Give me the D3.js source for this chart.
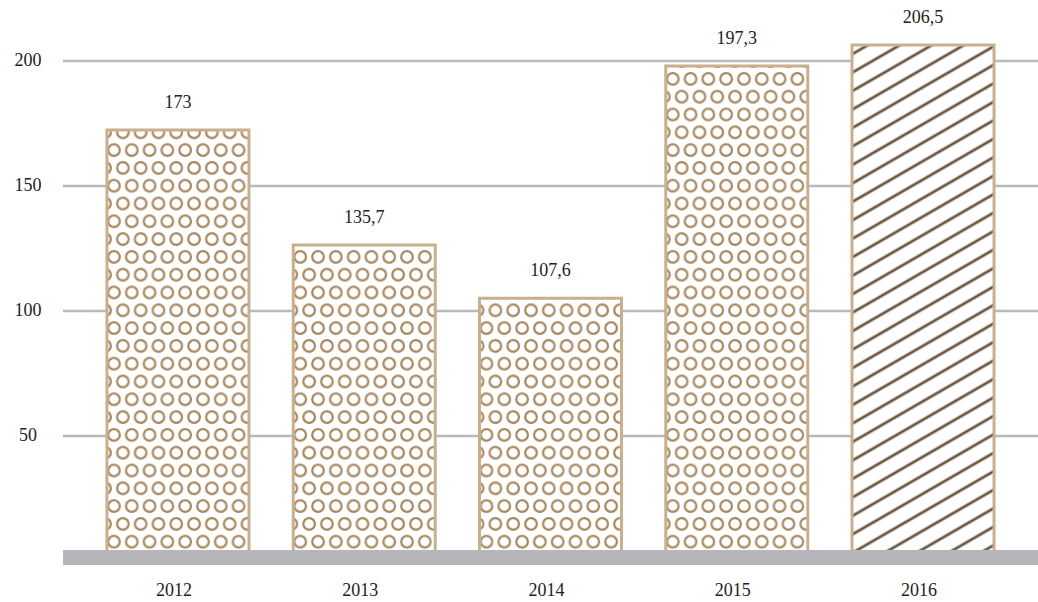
<!DOCTYPE html>
<html>
<head>
<meta charset="utf-8">
<script src="https://cdn.jsdelivr.net/npm/d3@7"></script>
<style>
  html, body { margin: 0; padding: 0; background: #fff; }
  svg { display: block; }
  text { font-family: "Liberation Serif", "DejaVu Serif", serif; fill: #222; }
</style>
</head>
<body>
<svg id="chart" width="1038" height="602"></svg>
<script>
// Chart data
const years = ["2012", "2013", "2014", "2015", "2016"];
const barValues = [172.4, 126.4, 105.1, 198, 206.4];   // heights as drawn
const valueLabels = ["173", "135,7", "107,6", "197,3", "206,5"];
const patternKinds = ["dots", "dots", "dots", "dots", "hatch"];
const yTicks = [50, 100, 150, 200];

// Draw bar chart
function drawChart(svgId) {

	const svg = d3.select(svgId),
		width = +svg.attr("width"),
		height = +svg.attr("height");

	const left = 63, right = width;

	// Scales
	const x = d3.scaleBand()
		.domain(years)
		.range([left, right])
		.paddingInner(0.2376)
		.paddingOuter(0.236);

	const y = d3.scaleLinear()
		.domain([0, 200])
		.range([561, 61]);

	const defs = svg.append("defs");

	// Patterns, one per bar so the tiles line up with the bar edges
	years.forEach((yr, i) => {
		if (patternKinds[i] === "dots") {
			const sp = 17.8;
			const p = defs.append("pattern")
				.attr("id", "pat-" + i)
				.attr("patternUnits", "userSpaceOnUse")
				.attr("x", x(yr))
				.attr("y", y(0) - 19.3 - sp / 2)
				.attr("width", sp)
				.attr("height", sp * 2);
			[[7, sp / 2], [7 + sp / 2, sp * 1.5], [7 + sp / 2 - sp, sp * 1.5]].forEach(c => {
				p.append("circle")
					.attr("cx", c[0])
					.attr("cy", c[1])
					.attr("r", 5.8)
					.attr("fill", "none")
					.attr("stroke", "#a8875f")
					.attr("stroke-width", 2.2);
			});
		} else {
			const p = defs.append("pattern")
				.attr("id", "pat-" + i)
				.attr("patternUnits", "userSpaceOnUse")
				.attr("x", x(yr))
				.attr("y", y(0))
				.attr("width", 10)
				.attr("height", 16)
				.attr("patternTransform", "rotate(-30)");
			p.append("line")
				.attr("x1", 0).attr("x2", 10)
				.attr("y1", 8).attr("y2", 8)
				.attr("stroke", "#6a5640")
				.attr("stroke-width", 2.8);
		}
	});

	// Gridlines
	svg.append("g")
		.attr("class", "grid")
		.selectAll("line")
		.data(yTicks)
		.join("line")
		.attr("x1", left)
		.attr("x2", right)
		.attr("y1", d => y(d))
		.attr("y2", d => y(d))
		.attr("stroke", "#b9b9bd")
		.attr("stroke-width", 2.5);

	// Y labels
	svg.append("g")
		.attr("class", "y-labels")
		.selectAll("text")
		.data(yTicks)
		.join("text")
		.attr("x", 28)
		.attr("y", d => y(d) + 1)
		.attr("text-anchor", "middle")
		.attr("dominant-baseline", "middle")
		.style("font-size", "18px")
		.text(d => d);

	// Bars
	const bars = svg.append("g")
		.attr("class", "bars")
		.selectAll("g")
		.data(years)
		.join("g");

	bars.append("rect")
		.attr("x", d => x(d))
		.attr("y", (d, i) => y(barValues[i]))
		.attr("width", x.bandwidth())
		.attr("height", (d, i) => y(0) - y(barValues[i]))
		.attr("fill", "#fff");

	bars.append("rect")
		.attr("x", d => x(d))
		.attr("y", (d, i) => y(barValues[i]))
		.attr("width", x.bandwidth())
		.attr("height", (d, i) => y(0) - y(barValues[i]))
		.attr("fill", (d, i) => `url(#pat-${i})`)
		.attr("stroke", "#c8b08f")
		.attr("stroke-width", 3);

	// Baseline band
	svg.append("rect")
		.attr("x", left)
		.attr("y", 550)
		.attr("width", right - left)
		.attr("height", 15)
		.attr("fill", "#b6b6ba");

	// Value labels
	bars.append("text")
		.attr("x", d => x(d) + x.bandwidth() / 2)
		.attr("y", (d, i) => y(barValues[i]) - 22)
		.attr("text-anchor", "middle")
		.style("font-size", "18px")
		.text((d, i) => valueLabels[i]);

	// X labels
	svg.append("g")
		.attr("class", "x-labels")
		.selectAll("text")
		.data(years)
		.join("text")
		.attr("x", d => x(d) + x.bandwidth() / 2 - 4)
		.attr("y", 596)
		.attr("text-anchor", "middle")
		.style("font-size", "18px")
		.text(d => d);
}

drawChart("#chart");
</script>
</body>
</html>
